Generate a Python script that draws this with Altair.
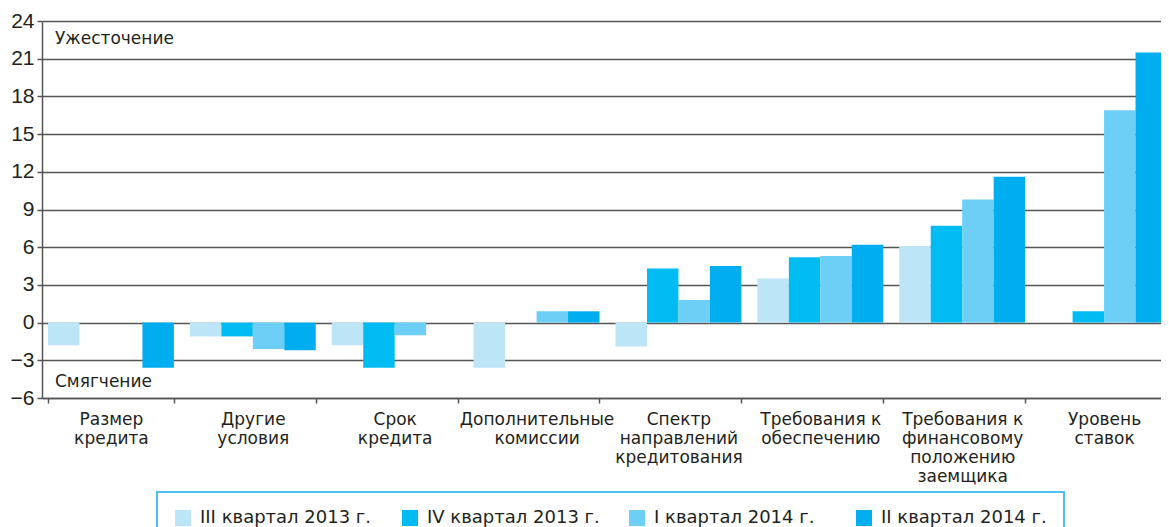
import altair as alt
import pandas as pd

categories = [
    "Размер\nкредита",
    "Другие\nусловия",
    "Срок\nкредита",
    "Дополнительные\nкомиссии",
    "Спектр\nнаправлений\nкредитования",
    "Требования к\nобеспечению",
    "Требования к\nфинансовому\nположению\nзаемщика",
    "Уровень\nставок",
]
series_names = ["III квартал 2013 г.", "IV квартал 2013 г.", "I квартал 2014 г.", "II квартал 2014 г."]
s_q3_2013 = [-1.8, -1.1, -1.8, -3.6, -1.9, 3.5, 6.1, 0.0]
s_q4_2013 = [0.0, -1.1, -3.6, 0.0, 4.3, 5.2, 7.7, 0.9]
s_q1_2014 = [0.0, -2.1, -1.0, 0.9, 1.8, 5.3, 9.8, 16.9]
s_q2_2014 = [-3.6, -2.2, 0.0, 0.9, 4.5, 6.2, 11.6, 21.5]
series_values = [s_q3_2013, s_q4_2013, s_q1_2014, s_q2_2014]
colors = ["#bde5f8", "#00bcf2", "#6dcff6", "#00aeef"]
y_ticks = [-6, -3, 0, 3, 6, 9, 12, 15, 18, 21, 24]
annot_texts = ["Ужесточение", "Смягчение"]
annot_y = [22.6, -4.75]

rows = []
for name, vals in zip(series_names, series_values):
    for cat, v in zip(categories, vals):
        rows.append({"cat": cat, "series": name, "value": v})
df = pd.DataFrame(rows)
ann = pd.DataFrame({"text": annot_texts, "y": annot_y})

FONT = "DejaVu Sans"
TXT = "#231f20"
GRID = "#555555"

y_scale = alt.Scale(domain=[-6, 24], nice=False, zero=False)


def y_axis():
    return alt.Axis(values=y_ticks, tickCount=len(y_ticks), labelFont="Liberation Sans",
                    labelFontSize=21, labelColor=TXT, labelPadding=3,
                    labelOverlap=False, tickSize=5,
                    tickColor=GRID, tickWidth=1.5, domainColor=GRID,
                    domainWidth=1.5, grid=True, gridColor=GRID,
                    gridWidth=1.5)


bars = alt.Chart(df).mark_bar().encode(
    x=alt.X("cat:N", sort=categories, title=None,
            scale=alt.Scale(range=[0, 1131], paddingInner=0.1128, paddingOuter=0.0423),
            axis=alt.Axis(labelAngle=0, labelExpr="split(datum.label, '\\n')",
                          labelFont=FONT, labelFontSize=17, labelColor=TXT,
                          labelLineHeight=19, labelPadding=8, labelOverlap=False,
                          labelLimit=300, tickBand="extent", tickSize=5,
                          tickColor=GRID, tickWidth=1.5, domainColor=GRID,
                          domainWidth=1.5, grid=False)),
    xOffset=alt.XOffset("series:N", sort=series_names,
                        scale=alt.Scale(paddingInner=0, paddingOuter=0)),
    y=alt.Y("value:Q", scale=y_scale, title=None, axis=y_axis()),
    color=alt.Color("series:N", sort=series_names,
                    scale=alt.Scale(domain=series_names, range=colors),
                    legend=alt.Legend(title=None, orient="none", legendX=115,
                                      legendY=471, direction="horizontal",
                                      columns=4, gridAlign="all",
                                      columnPadding=28, symbolType="square",
                                      symbolSize=256, symbolStrokeWidth=0,
                                      labelFont=FONT, labelFontSize=18,
                                      labelColor=TXT, labelOffset=8,
                                      labelLimit=260,
                                      padding=17, strokeColor="#4cc1ee")),
)

notes = alt.Chart(ann).mark_text(align="left", baseline="middle", font=FONT,
                                 fontSize=17, color=TXT).encode(
    x=alt.value(13),
    y=alt.Y("y:Q", scale=y_scale, title=None, axis=y_axis()),
    text="text:N",
)

chart = alt.layer(bars, notes).properties(
    width=1119, height=377,
    autosize=alt.AutoSizeParams(type="none"),
    padding={"left": 34, "top": 13, "right": 0, "bottom": 129},
).configure_view(stroke=None).configure_legend(strokeWidth=2)

chart.save("out.html", embed_options={"renderer": "svg", "actions": False})
